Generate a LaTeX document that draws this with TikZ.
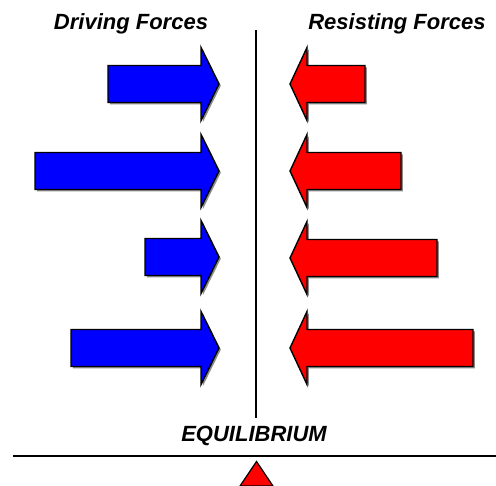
\documentclass[tikz,border=0pt]{standalone}
\usepackage{fontspec}
\setmainfont{Liberation Sans}
\begin{document}
\begin{tikzpicture}[x=1pt,y=-1pt,
  lbl/.style={font=\fontsize{22}{26}\selectfont\bfseries\itshape, inner sep=0pt, anchor=base},
  arrowshape/.style={draw=black, line width=1.4pt, line join=miter},
  shadowshape/.style={fill=black!45, draw=none},
  bar/.style={draw=black, line width=2pt}]
\useasboundingbox (0,0) rectangle (496,486);
\definecolor{dblue}{RGB}{0,0,255}
\definecolor{dred}{RGB}{255,0,0}
% driving forces (blue, pointing right)
\foreach \L/\c in {108/84, 35/171, 145/257, 71/348}{
  \fill[shadowshape, shift={(1.8,1.8)}] (\L,\c-18.5) -- (201,\c-18.5) -- (201,\c-36.5) -- (219,\c) -- (201,\c+36.5) -- (201,\c+18.5) -- (\L,\c+18.5) -- cycle;
  \filldraw[arrowshape, fill=dblue] (\L,\c-18.5) -- (201,\c-18.5) -- (201,\c-36.5) -- (219,\c) -- (201,\c+36.5) -- (201,\c+18.5) -- (\L,\c+18.5) -- cycle;
}
% resisting forces (red, pointing left)
\foreach \R/\c in {365/84, 401/171, 437/258, 473/348}{
  \fill[shadowshape, shift={(1.8,1.8)}] (\R,\c-18.5) -- (307,\c-18.5) -- (307,\c-36.5) -- (290,\c) -- (307,\c+36.5) -- (307,\c+18.5) -- (\R,\c+18.5) -- cycle;
  \filldraw[arrowshape, fill=dred] (\R,\c-18.5) -- (307,\c-18.5) -- (307,\c-36.5) -- (290,\c) -- (307,\c+36.5) -- (307,\c+18.5) -- (\R,\c+18.5) -- cycle;
}
% titles
\node[lbl] (driving) at (131,30) {Driving Forces};
\node[lbl] (resisting) at (397,30) {Resisting Forces};
\node[lbl] (equil) at (254,442) {EQUILIBRIUM};
% divider and balance
\coordinate (vtop) at (256,30);
\coordinate (vbot) at (256,418);
\draw[bar] (vtop) -- (vbot);
\coordinate (hl) at (13,456);
\coordinate (hr) at (496,456);
\draw[bar] (hl) -- (hr);
\filldraw[fill=dred, draw=black, line width=1.2pt, line join=miter] (240,486) -- (256.5,461.5) -- (273,486) -- cycle;
\end{tikzpicture}
\end{document}
